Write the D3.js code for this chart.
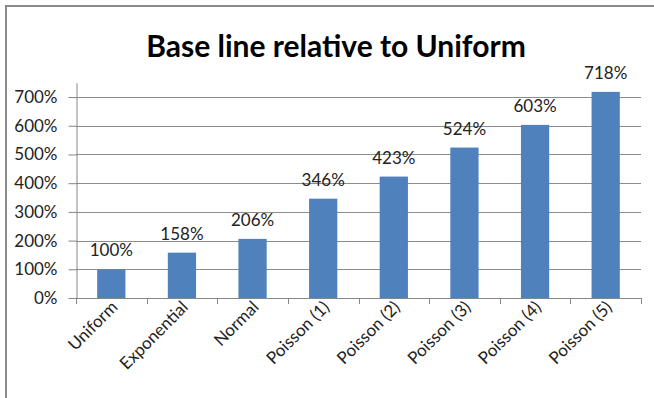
<!DOCTYPE html>
<html lang="en">
<head>
<meta charset="UTF-8">
<title>Base line relative to Uniform</title>
<script src="https://d3js.org/d3.v7.min.js"></script>
<style>
  body { margin: 0; background: #fff; }
  text { font-family: Lato, "Open Sans", sans-serif; }
</style>
</head>
<body>
<script>
  const categories = ['Uniform', 'Exponential', 'Normal', 'Poisson (1)', 'Poisson (2)', 'Poisson (3)', 'Poisson (4)', 'Poisson (5)'];
  const values = [1.00, 1.58, 2.06, 3.46, 4.23, 5.24, 6.03, 7.18];
  const yTicks = [0, 1, 2, 3, 4, 5, 6, 7];

  const W = 654, H = 398;
  const svg = d3.select('body').append('svg').attr('width', W).attr('height', H);

  // chart frame (cropped at right / bottom)
  svg.append('line').attr('x1', 6).attr('x2', 6).attr('y1', 5).attr('y2', H)
    .attr('stroke', '#8a8a8a').attr('stroke-width', 2);
  svg.append('line').attr('x1', 5).attr('x2', W).attr('y1', 6).attr('y2', 6)
    .attr('stroke', '#8a8a8a').attr('stroke-width', 2);

  svg.append('text')
    .attr('x', 336).attr('y', 57)
    .attr('text-anchor', 'middle')
    .attr('font-size', 30).attr('font-weight', 'bold')
    .attr('fill', '#000')
    .text('Base line relative to Uniform');

  const x = d3.scaleBand().domain(categories).range([76, 641]).paddingInner(0.6).paddingOuter(0.3);
  const y = d3.scaleLinear().domain([0, 7.5]).range([298, 82.7]);
  const pct = d => d3.format('.0%')(d);

  // gridlines
  svg.append('g').selectAll('line').data(yTicks.slice(1)).join('line')
    .attr('x1', 76).attr('x2', 641)
    .attr('y1', d => Math.round(y(d)) + 0.5).attr('y2', d => Math.round(y(d)) + 0.5)
    .attr('stroke', '#8c8c8c');

  // y axis
  const yAxis = svg.append('g').attr('transform', 'translate(76.5,0)')
    .call(d3.axisLeft(y).tickValues(yTicks).tickFormat(pct).tickSize(8).tickSizeOuter(0));
  yAxis.select('.domain').attr('stroke', '#868686');
  yAxis.selectAll('.tick line').attr('stroke', '#868686');
  yAxis.selectAll('.tick text').attr('font-size', 17).attr('fill', '#222').attr('x', -19)
    .style('font-family', 'Lato, "Open Sans", sans-serif');

  // bars
  svg.append('g').selectAll('rect').data(values).join('rect')
    .attr('x', (d, i) => x(categories[i]))
    .attr('y', d => y(d))
    .attr('width', x.bandwidth())
    .attr('height', d => y(0) - y(d))
    .attr('fill', '#4f81bd');

  // x axis with ticks at category boundaries
  const bounds = d3.range(categories.length + 1).map(i => 76 + i * (565 / categories.length));
  svg.append('line').attr('x1', 76).attr('x2', 641).attr('y1', 298.5).attr('y2', 298.5).attr('stroke', '#868686');
  svg.append('g').selectAll('line').data(bounds).join('line')
    .attr('x1', d => Math.round(d) + 0.5).attr('x2', d => Math.round(d) + 0.5)
    .attr('y1', 298).attr('y2', 304).attr('stroke', '#868686');

  svg.append('g').selectAll('text').data(categories).join('text')
    .attr('transform', d => `translate(${x(d) + x.bandwidth() / 2 + 3},${304}) rotate(-45)`)
    .attr('text-anchor', 'end')
    .attr('dy', '0.35em')
    .attr('font-size', 17).attr('fill', '#222')
    .text(d => d);

  // data labels
  svg.append('g').selectAll('text').data(values).join('text')
    .attr('x', (d, i) => x(categories[i]) + x.bandwidth() / 2)
    .attr('y', d => y(d) - 13)
    .attr('text-anchor', 'middle')
    .attr('font-size', 17).attr('fill', '#222')
    .text(d => pct(d));
</script>
</body>
</html>
